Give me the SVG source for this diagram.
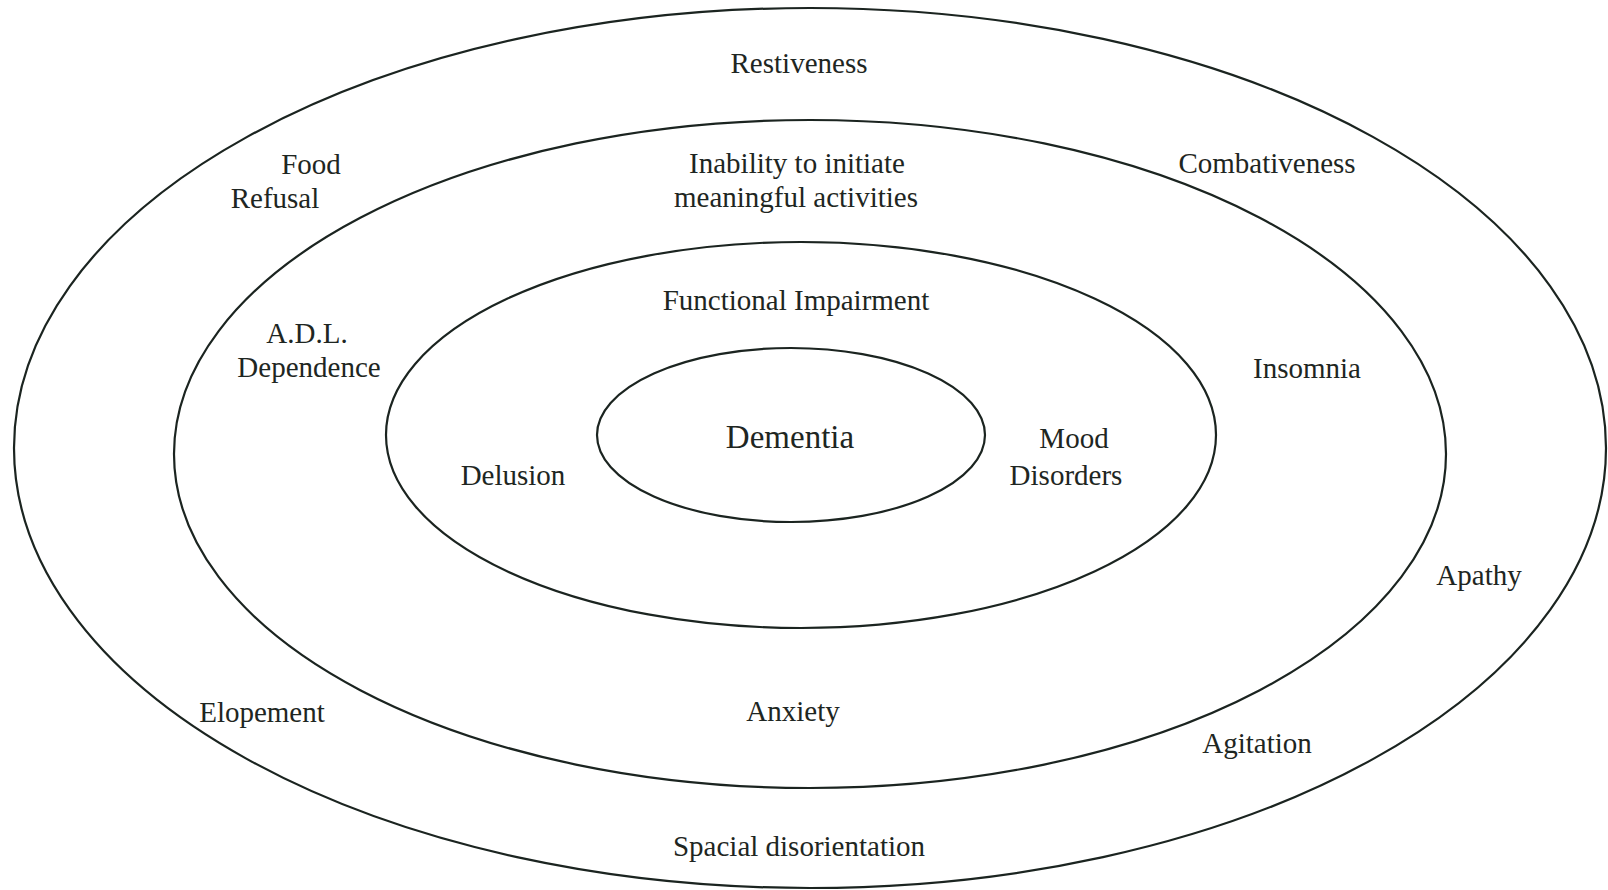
<svg xmlns="http://www.w3.org/2000/svg" width="1608" height="890" viewBox="0 0 1608 890">
<style>
.ring{fill:none;stroke:#1b2420;stroke-width:2.2}
.t{font-family:"Liberation Serif","Times New Roman",serif;font-size:29px;fill:#1e2622;text-anchor:middle}
.big{font-size:33px}
</style>
<rect width="1608" height="890" fill="#ffffff"/>
<g id="rings">
<ellipse id="ring-outer" class="ring" cx="810" cy="448" rx="796" ry="440"/>
<ellipse id="ring-2" class="ring" cx="810" cy="454" rx="636" ry="334"/>
<ellipse id="ring-3" class="ring" cx="801" cy="435" rx="415" ry="193"/>
<ellipse id="ring-inner" class="ring" cx="791" cy="435" rx="194" ry="87"/>
</g>
<g id="connectors"></g>
<g id="labels">
<text class="t" x="799" y="73">Restiveness</text>
<text class="t" x="311" y="174">Food</text>
<text class="t" x="275" y="208">Refusal</text>
<text class="t" x="797" y="173">Inability to initiate</text>
<text class="t" x="796" y="207">meaningful activities</text>
<text class="t" x="1267" y="173">Combativeness</text>
<text class="t" x="796" y="310">Functional Impairment</text>
<text class="t" x="307" y="343">A.D.L.</text>
<text class="t" x="309" y="377">Dependence</text>
<text class="t" x="1307" y="378">Insomnia</text>
<text class="t big" x="790" y="448">Dementia</text>
<text class="t" x="513" y="485">Delusion</text>
<text class="t" x="1074" y="448">Mood</text>
<text class="t" x="1066" y="485">Disorders</text>
<text class="t" x="1479" y="585">Apathy</text>
<text class="t" x="262" y="722">Elopement</text>
<text class="t" x="793" y="721">Anxiety</text>
<text class="t" x="1257" y="753">Agitation</text>
<text class="t" x="799" y="856">Spacial disorientation</text>
</g>
</svg>
